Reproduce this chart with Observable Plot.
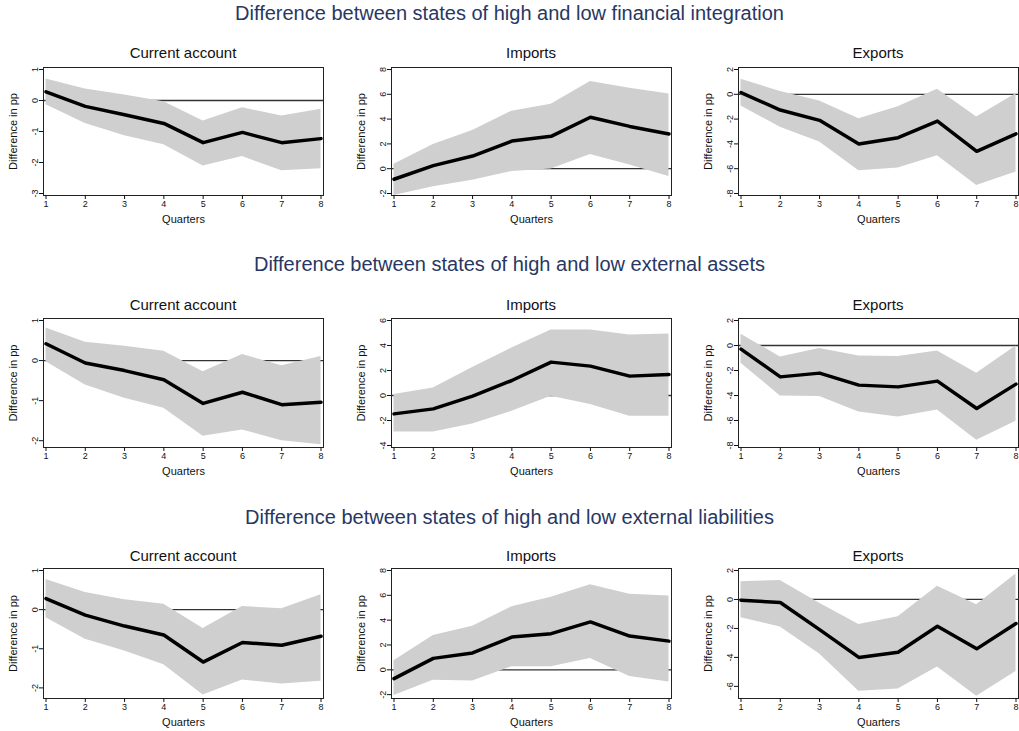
<!DOCTYPE html>
<html>
<head>
<meta charset="utf-8">
<script src="https://cdn.jsdelivr.net/npm/d3@7"></script>
<script src="https://cdn.jsdelivr.net/npm/@observablehq/plot@0.6"></script>
<style>
  body { margin: 0; background: #fff; font-family: "Liberation Sans", Arial, sans-serif; }
  #page { position: relative; width: 1019px; height: 731px; overflow: hidden; }
  .main { position: absolute; left: 0; width: 1019px; text-align: center; font-size: 20px; color: #283763; line-height: 22px; }
  .ptitle { position: absolute; width: 280px; text-align: center; font-size: 15px; color: #111; line-height: 17px; }
  .panel { position: absolute; }
</style>
</head>
<body>
<div id="page"></div>
<script>
const quarters = [1, 2, 3, 4, 5, 6, 7, 8]

const rowTitles = [
  "Difference between states of high and low financial integration",
  "Difference between states of high and low external assets",
  "Difference between states of high and low external liabilities"
]
const panelTitles = ["Current account", "Imports", "Exports"]

// financial integration
const fin_ca_est = [0.28, -0.19, -0.46, -0.74, -1.36, -1.03, -1.36, -1.23]
const fin_ca_hi  = [0.69, 0.37, 0.18, -0.04, -0.66, -0.23, -0.5, -0.28]
const fin_ca_lo  = [-0.14, -0.74, -1.14, -1.43, -2.11, -1.81, -2.27, -2.2]
const fin_im_est = [-0.85, 0.25, 1.02, 2.23, 2.61, 4.15, 3.41, 2.8]
const fin_im_hi  = [0.36, 1.95, 3.08, 4.64, 5.19, 7.03, 6.48, 6.02]
const fin_im_lo  = [-2.17, -1.46, -0.93, -0.22, -0.03, 1.15, 0.3, -0.63]
const fin_ex_est = [0.14, -1.27, -2.1, -4.0, -3.5, -2.16, -4.6, -3.19]
const fin_ex_hi  = [1.22, 0.22, -0.54, -1.97, -1.0, 0.41, -1.84, 0.05]
const fin_ex_lo  = [-0.95, -2.65, -3.84, -6.16, -5.95, -4.95, -7.35, -6.27]

// external assets
const ass_ca_est = [0.42, -0.06, -0.25, -0.48, -1.07, -0.79, -1.1, -1.04]
const ass_ca_hi  = [0.81, 0.46, 0.36, 0.23, -0.28, 0.15, -0.13, 0.1]
const ass_ca_lo  = [-0.03, -0.61, -0.94, -1.19, -1.89, -1.73, -2.0, -2.1]
const ass_im_est = [-1.47, -1.07, -0.05, 1.2, 2.67, 2.35, 1.55, 1.68]
const ass_im_hi  = [0.08, 0.61, 2.25, 3.8, 5.24, 5.24, 4.84, 4.92]
const ass_im_lo  = [-2.92, -2.92, -2.27, -1.26, -0.05, -0.72, -1.66, -1.66]
const ass_ex_est = [-0.29, -2.51, -2.21, -3.17, -3.31, -2.85, -5.04, -3.09]
const ass_ex_hi  = [0.91, -0.91, -0.24, -0.83, -0.88, -0.43, -2.21, -0.03]
const ass_ex_lo  = [-1.41, -4.03, -4.08, -5.31, -5.71, -5.15, -7.57, -6.05]

// external liabilities
const lia_ca_est = [0.28, -0.14, -0.42, -0.65, -1.34, -0.84, -0.91, -0.68]
const lia_ca_hi  = [0.77, 0.44, 0.25, 0.14, -0.48, 0.08, 0.02, 0.38]
const lia_ca_lo  = [-0.21, -0.76, -1.06, -1.41, -2.18, -1.8, -1.9, -1.83]
const lia_im_est = [-0.71, 0.92, 1.36, 2.64, 2.91, 3.86, 2.72, 2.31]
const lia_im_hi  = [0.73, 2.77, 3.51, 5.08, 5.84, 6.85, 6.09, 5.95]
const lia_im_lo  = [-2.07, -0.84, -0.9, 0.24, 0.24, 0.92, -0.54, -0.98]
const lia_ex_est = [-0.05, -0.21, -2.08, -4.0, -3.65, -1.85, -3.41, -1.66]
const lia_ex_hi  = [1.22, 1.31, -0.26, -1.73, -1.19, 0.91, -0.37, 1.75]
const lia_ex_lo  = [-1.26, -1.9, -3.77, -6.34, -6.18, -4.66, -6.69, -4.98]

// y axis ranges and ticks
const yDomains = [
  [[-3, 1], [-2, 8], [-8, 2]],
  [[-2.12, 1], [-4, 6], [-8, 2]],
  [[-2.22, 1], [-2.15, 8], [-6.7, 2]]
]
const yTicks = [
  [[-3, -2, -1, 0, 1], [-2, 0, 2, 4, 6, 8], [-8, -6, -4, -2, 0, 2]],
  [[-2, -1, 0, 1], [-4, -2, 0, 2, 4, 6], [-8, -6, -4, -2, 0, 2]],
  [[-2, -1, 0, 1], [-2, 0, 2, 4, 6, 8], [-6, -4, -2, 0, 2]]
]

const series = [
  [[fin_ca_est, fin_ca_lo, fin_ca_hi], [fin_im_est, fin_im_lo, fin_im_hi], [fin_ex_est, fin_ex_lo, fin_ex_hi]],
  [[ass_ca_est, ass_ca_lo, ass_ca_hi], [ass_im_est, ass_im_lo, ass_im_hi], [ass_ex_est, ass_ex_lo, ass_ex_hi]],
  [[lia_ca_est, lia_ca_lo, lia_ca_hi], [lia_im_est, lia_im_lo, lia_im_hi], [lia_ex_est, lia_ex_lo, lia_ex_hi]]
]

// layout of the grid
const colLeft = [0, 348, 695]
const frameTop = [67, 318, 568]
const frameH = [128, 129, 130]
const mainTitleY = [2, 253, 506]
const panelTitleY = [44, 296, 547]

const page = d3.select('#page')

rowTitles.forEach((t, r) => {
  page.append('div').attr('class', 'main').style('top', mainTitleY[r] + 'px').text(t)

  panelTitles.forEach((pt, c) => {
    page.append('div').attr('class', 'ptitle')
      .style('left', (colLeft[c] + 43) + 'px')
      .style('top', panelTitleY[r] + 'px')
      .text(pt)

    const [est, lo, hi] = series[r][c]
    const data = quarters.map((q, i) => ({q, est: est[i], lo: lo[i], hi: hi[i]}))

    const chart = Plot.plot({
      width: 324,
      height: frameH[r] + 38,
      marginLeft: 43,
      marginRight: 1,
      marginTop: 2,
      marginBottom: 36,
      style: {fontFamily: '"Liberation Sans", Arial, sans-serif', fontSize: "9px", color: "#111"},
      x: {domain: [1, 8], insetLeft: 2.5, insetRight: 2.5},
      y: {domain: yDomains[r][c], insetTop: 2, insetBottom: 2},
      marks: [
        Plot.ruleY([0], {stroke: "#333", strokeWidth: 1.3}),
        Plot.areaY(data, {x: "q", y1: "lo", y2: "hi", fill: "#cfcfcf"}),
        Plot.lineY(data, {x: "q", y: "est", stroke: "#000", strokeWidth: 3.5}),
        Plot.frame({stroke: "#222", strokeWidth: 1}),
        Plot.axisX(quarters, {tickSize: 4, tickPadding: 1, tickFormat: d => d,
          label: "Quarters", labelAnchor: "center", labelArrow: "none", labelOffset: 27, fontSize: 9}),
        Plot.axisY(yTicks[r][c], {tickSize: 4, tickPadding: 2, tickRotate: -90, tickFormat: d => d,
          label: "Difference in pp", labelAnchor: "center", labelArrow: "none", labelOffset: 34})
      ]
    })
    // axis titles a bit larger than the tick labels
    d3.select(chart).selectAll('g[aria-label="x-axis label"] text, g[aria-label="y-axis label"] text')
      .style('font-size', '11px')

    page.append('div').attr('class', 'panel')
      .style('left', colLeft[c] + 'px')
      .style('top', (frameTop[r] - 2) + 'px')
      .node().appendChild(chart)
  })
})
</script>
</body>
</html>
